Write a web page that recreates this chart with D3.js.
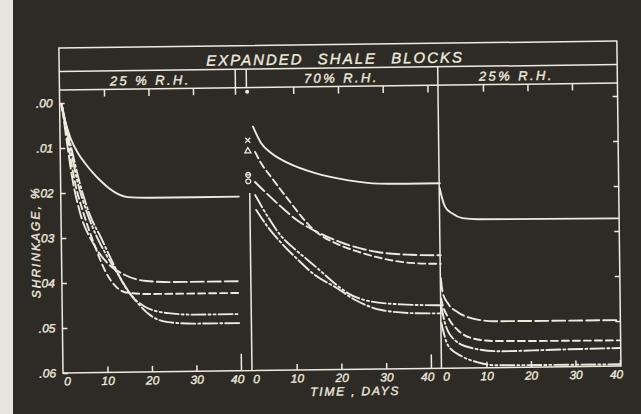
<!DOCTYPE html>
<html>
<head>
<meta charset="utf-8">
<title>Expanded shale blocks</title>
<script src="https://cdnjs.cloudflare.com/ajax/libs/d3/7.8.5/d3.min.js"></script>
<style>
  html, body { margin: 0; padding: 0; background: #2e2b27; overflow: hidden; }
  svg { display: block; }
  text { font-family: "Liberation Sans", Arial, sans-serif; font-style: italic; stroke: #eeeadf; stroke-width: 0.35px; }
</style>
</head>
<body>
<svg width="641" height="414"></svg>
<script>
// values, each point is [day, shrinkage %]
var panelLabels = ["25 % R.H.", "70% R.H.", "25% R.H."];
var dayTicks = [0, 10, 20, 30, 40];
var shrinkTicks = [0, 0.01, 0.02, 0.03, 0.04, 0.05, 0.06];

// first period, 25% R.H.
var dry1Solid = [[0.3,0.0003],[1.2,0.0040],[2.5,0.0082],[4,0.0112],[5.6,0.0135],[7.3,0.0156],[9.1,0.0175],[11,0.0192],[12.9,0.0204],[15,0.0211],[20,0.0213],[40,0.0213]];
var dry1LongDash = [[0.5,0.0005],[1.5,0.0085],[2.6,0.0165],[4.3,0.0245],[7,0.0310],[10.4,0.0358],[14.2,0.0384],[19,0.0398],[25,0.0401],[40,0.0401]];
var dry1ShortDash = [[0.5,0.0005],[1.8,0.0090],[3.2,0.0175],[5.2,0.0250],[7.5,0.0318],[9.8,0.0375],[12.2,0.0410],[15,0.0424],[20,0.0427],[40,0.0427]];
var dry1DashDot2 = [[0.5,0.0005],[2.1,0.0090],[3.8,0.0175],[5.8,0.0243],[8.2,0.0303],[10.6,0.0348],[13.1,0.0390],[15.5,0.0428],[18.6,0.0455],[23.8,0.0470],[30,0.0474],[40,0.0474]];
var dry1DashDot = [[0.5,0.0005],[2.5,0.0100],[4.6,0.0190],[6.5,0.0250],[8.9,0.0300],[11.2,0.0350],[14.2,0.0410],[17,0.0447],[19.9,0.0475],[23.8,0.0490],[30,0.0494],[40,0.0494]];

// 70% R.H.
var wetSolid = [[0.9,0.0058],[2.7,0.0095],[4.9,0.0117],[8.7,0.0140],[14.7,0.0163],[22.1,0.0180],[28.8,0.0188],[35,0.0189],[42.5,0.0189]];
var wetLongDash = [[1.2,0.0181],[3.5,0.0204],[7,0.0237],[10.5,0.0267],[15,0.0294],[20.1,0.0317],[28.4,0.0340],[35.8,0.0347],[42.5,0.0349]];
var wetShortDash = [[1.3,0.0114],[2.6,0.0139],[4.8,0.0170],[7,0.0200],[9.2,0.0229],[11.4,0.0258],[13.4,0.0281],[15.6,0.0300],[19,0.0319],[23.5,0.0337],[29.7,0.0355],[35.7,0.0365],[42.5,0.0368]];
var wetDashDot2 = [[1.2,0.0210],[4,0.0259],[6.9,0.0302],[9.1,0.0324],[12.2,0.0351],[15.1,0.0376],[18.9,0.0410],[21.7,0.0431],[25.6,0.0447],[33.6,0.0457],[42.4,0.0460]];
var wetDashDot = [[1.4,0.0243],[4,0.0282],[6.9,0.0317],[10.7,0.0356],[14.4,0.0390],[18.9,0.0417],[23.3,0.0446],[29.1,0.0469],[36.7,0.0477],[42.4,0.0478]];

// back to 25% R.H.
var dry2Solid = [[0,0.0200],[0.5,0.0222],[1.2,0.0242],[2.7,0.0256],[5,0.0267],[8.5,0.0270],[40,0.0272]];
var dry2LongDash = [[0,0.0400],[0.4,0.0433],[1.5,0.0456],[3.7,0.0476],[6.9,0.0490],[12,0.0497],[40,0.0498]];
var dry2ShortDash = [[0,0.0445],[0.3,0.0458],[1.5,0.0487],[3.7,0.0516],[6.8,0.0534],[12,0.0541],[40,0.0543]];
var dry2DashDot = [[0,0.0460],[0.8,0.0500],[3,0.0538],[6.8,0.0556],[13.5,0.0564],[25,0.0562],[40,0.0560]];
var dry2DashDot2 = [[0,0.0500],[1.4,0.0549],[4.5,0.0574],[8.1,0.0588],[11.9,0.0595],[40,0.0596]];

// symbols at the start of the 70% period
var markerTypes = ["dot", "cross", "triangle", "barCircle", "circle"];
var markerValues = [-0.002, 0.0088, 0.0112, 0.0165, 0.0179];

var lineColor = "#eeeadf";
var dashes = {
    solid: null,
    longDash: "13,4",
    shortDash: "7,4",
    dashDot: "14,3,2,3",
    dashDot2: "14,3,2,3,2,3"
};

var svg = d3.select("svg");
svg.append("rect").attr("width", 641).attr("height", 414).attr("fill", "#2e2b27");
svg.append("rect").attr("width", 13).attr("height", 414).attr("fill", "#e8e5de");

// the scan sits a little askew
var chart = svg.append("g").attr("transform", "rotate(-0.72,63,373)");

var y = d3.scaleLinear().domain([0, 0.06]).range([103, 373]);
var x1 = d3.scaleLinear().domain([0, 40]).range([63, 241]);
var x2 = d3.scaleLinear().domain([0, 40]).range([252, 431]);
var x3 = d3.scaleLinear().domain([0, 40]).range([442, 620]);

var frameLeft = 63, frameRight = 621, frameTop = 48, titleBottom = 71.5, plotTop = 90, plotBottom = y(0.06);

var panels = [
    { x: x1, center: 154, topTicks: [10, 20, 30], longTick: 17,
      series: [[dry1Solid, "solid"], [dry1LongDash, "longDash"], [dry1ShortDash, "shortDash"], [dry1DashDot2, "dashDot2"], [dry1DashDot, "dashDot"]] },
    { x: x2, center: 345, topTicks: [10, 20, 30, 40], longTick: 14,
      series: [[wetSolid, "solid"], [wetLongDash, "longDash"], [wetShortDash, "shortDash"], [wetDashDot2, "dashDot2"], [wetDashDot, "dashDot"]] },
    { x: x3, center: 520, topTicks: [10, 20, 30], longTick: 6,
      series: [[dry2Solid, "solid"], [dry2LongDash, "longDash"], [dry2ShortDash, "shortDash"], [dry2DashDot, "dashDot"], [dry2DashDot2, "dashDot2"]] }
];

// frame and dividers
var frame = chart.append("g")
    .attr("stroke", lineColor)
    .attr("stroke-width", 1.5)
    .attr("fill", "none");

frame.append("rect")
    .attr("x", frameLeft).attr("y", frameTop)
    .attr("width", frameRight - frameLeft)
    .attr("height", plotBottom - frameTop);

[titleBottom, plotTop].forEach(function(yy) {
    frame.append("line")
        .attr("x1", frameLeft).attr("x2", frameRight)
        .attr("y1", yy).attr("y2", yy);
});

var dividers = [
    [x1(40) - 2, titleBottom, plotTop + 7],
    [x2(0) - 2, titleBottom, plotTop],
    [x3(0) - 0.5, titleBottom, plotBottom],
    [x2(0), y(0.0205), plotBottom]
];
frame.selectAll("line.div")
    .data(dividers)
    .enter().append("line")
    .attr("class", "div")
    .attr("x1", function(d) { return d[0]; })
    .attr("x2", function(d) { return d[0]; })
    .attr("y1", function(d) { return d[1]; })
    .attr("y2", function(d) { return d[2]; });

// titles
chart.append("text")
    .attr("x", (frameLeft + frameRight) / 2 - 3)
    .attr("y", 67.5)
    .attr("text-anchor", "middle")
    .attr("fill", lineColor)
    .style("font-size", "15px")
    .style("letter-spacing", "2px")
    .style("word-spacing", "8px")
    .text("EXPANDED SHALE BLOCKS");

chart.selectAll("text.sub")
    .data(panels)
    .enter().append("text")
    .attr("class", "sub")
    .attr("x", function(d) { return d.center; })
    .attr("y", 86)
    .attr("text-anchor", "middle")
    .attr("fill", lineColor)
    .style("font-size", "13px")
    .style("letter-spacing", "2.4px")
    .text(function(d, i) { return panelLabels[i]; });

// y axes
var left = chart.append("g")
    .attr("transform", "translate(" + frameLeft + ",0)")
    .attr("color", lineColor)
    .call(d3.axisLeft(y)
        .tickValues(shrinkTicks)
        .tickSizeInner(-5)
        .tickSizeOuter(0)
        .tickPadding(7)
        .tickFormat(function(d) { return d3.format(".2f")(d).slice(1); }));
left.select(".domain").remove();
left.selectAll(".tick line").attr("stroke-width", 1.5);
left.selectAll(".tick text").style("font-size", "12px").style("font-family", "'Liberation Sans', Arial, sans-serif");

var right = chart.append("g")
    .attr("transform", "translate(" + frameRight + ",0)")
    .attr("color", lineColor)
    .call(d3.axisRight(y)
        .tickValues(shrinkTicks.slice(0, 6))
        .tickSizeInner(-5)
        .tickSizeOuter(0)
        .tickFormat(""));
right.select(".domain").remove();
right.selectAll(".tick line").attr("stroke-width", 1.5);

chart.append("text")
    .attr("transform", "translate(41.5,242) rotate(-90)")
    .attr("text-anchor", "middle")
    .attr("fill", lineColor)
    .style("font-size", "12px")
    .style("letter-spacing", "2px")
    .text("SHRINKAGE, %");

// x axes, one per period
var line = d3.line().curve(d3.curveMonotoneX);

panels.forEach(function(p) {
    var top = chart.append("g")
        .attr("transform", "translate(0," + plotTop + ")")
        .attr("color", lineColor)
        .call(d3.axisTop(p.x)
            .tickValues(p.topTicks)
            .tickSizeInner(-7)
            .tickSizeOuter(0)
            .tickFormat(""));
    top.select(".domain").remove();
    top.selectAll(".tick line").attr("stroke-width", 1.5);

    var bottom = chart.append("g")
        .attr("transform", "translate(0," + plotBottom + ")")
        .attr("color", lineColor)
        .call(d3.axisBottom(p.x)
            .tickValues(dayTicks)
            .tickSizeInner(-6)
            .tickSizeOuter(0)
            .tickPadding(4));
    bottom.select(".domain").remove();
    bottom.selectAll(".tick line")
        .attr("stroke-width", 1.5)
        .attr("y2", function(d) {
            if (d === 0) return 0;
            return d === 40 ? -p.longTick : -6;
        });
    bottom.selectAll(".tick text")
        .attr("dx", function(d) {
            if (d === 0) return 4;
            return d === 40 ? -4 : 0;
        })
        .style("font-size", "12px")
        .style("font-family", "'Liberation Sans', Arial, sans-serif");

    line.x(function(d) { return p.x(d[0]); })
        .y(function(d) { return y(d[1]); });

    p.series.forEach(function(s) {
        chart.append("path")
            .datum(s[0])
            .attr("d", line)
            .attr("fill", "none")
            .attr("stroke", lineColor)
            .attr("stroke-width", 1.9)
            .attr("stroke-linecap", "round")
            .attr("stroke-dasharray", dashes[s[1]]);
    });
});

chart.append("text")
    .attr("x", 355)
    .attr("y", 399)
    .attr("text-anchor", "middle")
    .attr("fill", lineColor)
    .style("font-size", "12px")
    .style("letter-spacing", "1.8px")
    .text("TIME , DAYS");

// the small symbols beside the 70% curves
var markers = chart.append("g")
    .attr("stroke", lineColor)
    .attr("stroke-width", 1.3)
    .attr("fill", "none");

markerTypes.forEach(function(type, i) {
    var g = markers.append("g")
        .attr("transform", "translate(" + x2(-0.3) + "," + y(markerValues[i]) + ")");
    if (type === "dot") {
        g.append("circle").attr("r", 2).attr("fill", lineColor).attr("stroke", "none");
    } else if (type === "cross") {
        g.append("path").attr("d", "M-2.5,-2.5L2.5,2.5M-2.5,2.5L2.5,-2.5");
    } else if (type === "triangle") {
        g.append("path").attr("d", d3.symbol().type(d3.symbolTriangle).size(16));
    } else if (type === "barCircle") {
        g.append("circle").attr("r", 2.4);
        g.append("line").attr("x1", -2.4).attr("x2", 2.4);
    } else {
        g.append("circle").attr("r", 2.4);
    }
});
</script>
</body>
</html>
